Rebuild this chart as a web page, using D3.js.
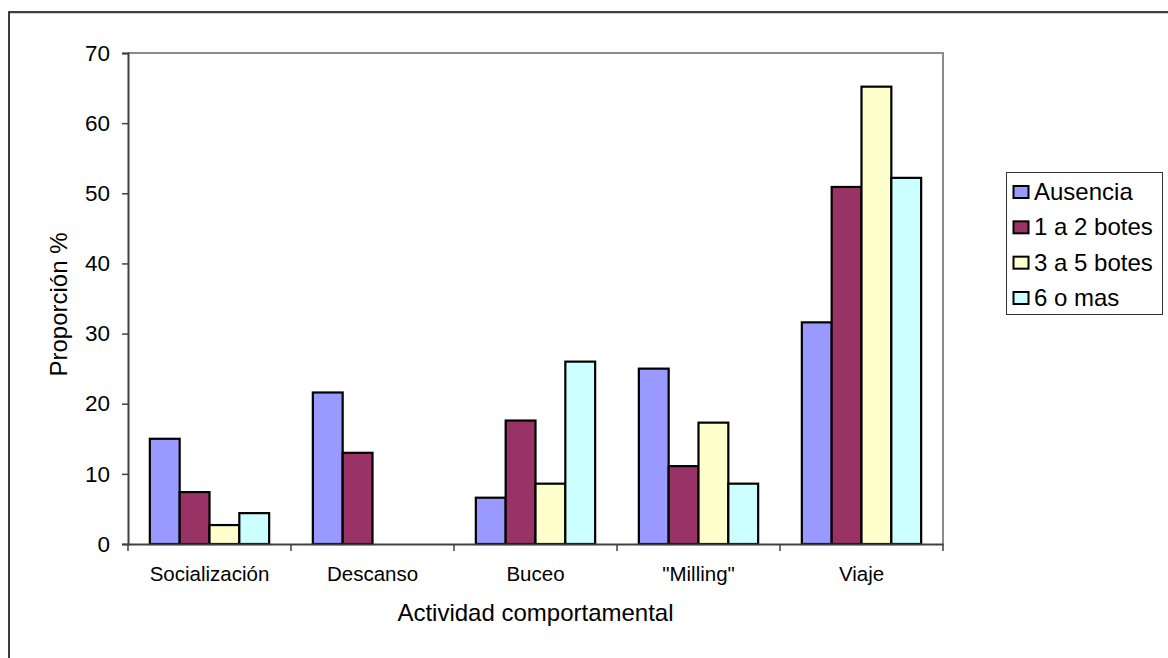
<!DOCTYPE html>
<html>
<head>
<meta charset="utf-8">
<script src="https://cdn.jsdelivr.net/npm/d3@7"></script>
<style>
  html, body { margin: 0; padding: 0; background: #fff; }
  svg { display: block; font-family: "Liberation Sans", Arial, sans-serif; }
</style>
</head>
<body>
<svg id="chart" width="1168" height="658"></svg>
<script>
const categories = ["Socialización", "Descanso", "Buceo", "\"Milling\"", "Viaje"];
const seriesNames = ["Ausencia", "1 a 2 botes", "3 a 5 botes", "6 o mas"];
const ausencia = [15.0, 21.6, 6.6, 25.0, 31.6];
const botes1a2 = [7.4, 13.0, 17.6, 11.1, 50.9];
const botes3a5 = [2.7, 0, 8.6, 17.3, 65.2];
const botes6mas = [4.4, 0, 26.0, 8.6, 52.2];
const yTicks = [0, 10, 20, 30, 40, 50, 60, 70];
const colors = ["#9999FF", "#993366", "#FFFFCC", "#CCFFFF"];
const xTitle = "Actividad comportamental";
const yTitle = "Proporción %";

const seriesValues = [ausencia, botes1a2, botes3a5, botes6mas];

const svg = d3.select("#chart");
const plot = { left: 128, right: 943, top: 53, bottom: 544 };

// outer frame (extends past right/bottom edges)
svg.append("rect").attr("x", 9.5).attr("y", 13.5).attr("width", 1200).attr("height", 700)
  .attr("fill", "none").attr("stroke", "#d0d0d0").attr("stroke-width", 1);
svg.append("rect").attr("x", 9).attr("y", 12).attr("width", 1200).attr("height", 700)
  .attr("fill", "none").attr("stroke", "#000").attr("stroke-width", 1.5);

const x0 = d3.scaleBand().domain(categories).range([plot.left, plot.right]).padding(0);
const bw = x0.bandwidth();
const inset = bw * 0.134;
const x1 = d3.scaleBand().domain(seriesNames).range([inset, bw - inset]).padding(0);
const y = d3.scaleLinear().domain([0, 70]).range([plot.bottom, plot.top]);

// plot area border (top + right)
svg.append("path")
  .attr("d", `M${plot.left},${plot.top}H${plot.right}V${plot.bottom}`)
  .attr("fill", "none").attr("stroke", "#8c8c8c").attr("stroke-width", 2);

// bars
const groups = svg.append("g").selectAll("g").data(categories).join("g")
  .attr("transform", d => `translate(${x0(d)},0)`);
groups.selectAll("rect")
  .data((c, ci) => seriesNames.map((s, si) => ({ s, si, v: seriesValues[si][ci] })).filter(d => d.v > 0))
  .join("rect")
  .attr("x", d => x1(d.s))
  .attr("width", x1.bandwidth())
  .attr("y", d => y(d.v))
  .attr("height", d => y(0) - y(d.v))
  .attr("fill", d => colors[d.si])
  .attr("stroke", "#000").attr("stroke-width", 2.2);

// y axis
const yAxis = svg.append("g").attr("transform", `translate(${plot.left},0)`)
  .call(d3.axisLeft(y).tickValues(yTicks).tickSize(6).tickPadding(12).tickFormat(d3.format("d")));
yAxis.select(".domain").attr("stroke", "#404040").attr("stroke-width", 2);
yAxis.selectAll(".tick line").attr("stroke", "#404040").attr("stroke-width", 1.5);
yAxis.selectAll("text").attr("font-size", 22.5).attr("fill", "#000")
  .attr("font-family", "Liberation Sans, Arial, sans-serif");

// x axis
const xAxis = svg.append("g").attr("transform", `translate(0,${plot.bottom})`)
  .call(d3.axisBottom(x0).tickSize(0).tickPadding(22));
xAxis.select(".domain").attr("stroke", "#404040").attr("stroke-width", 2);
xAxis.selectAll("text").attr("font-size", 20.5).attr("fill", "#000")
  .attr("font-family", "Liberation Sans, Arial, sans-serif");
// category boundary ticks
const bounds = categories.map(c => x0(c)).concat([plot.right]);
svg.append("g").selectAll("line").data(bounds).join("line")
  .attr("x1", d => d).attr("x2", d => d)
  .attr("y1", plot.bottom).attr("y2", plot.bottom + 7)
  .attr("stroke", "#404040").attr("stroke-width", 1.5);

// axis titles
svg.append("text").attr("x", (plot.left + plot.right) / 2).attr("y", 621)
  .attr("text-anchor", "middle").attr("font-size", 24).text(xTitle);
svg.append("text").attr("transform", `translate(67,${(plot.top + plot.bottom) / 2 + 6}) rotate(-90)`)
  .attr("text-anchor", "middle").attr("font-size", 24).text(yTitle);

// legend
const lg = svg.append("g");
lg.append("rect").attr("x", 1006.5).attr("y", 172.5).attr("width", 156).attr("height", 142)
  .attr("fill", "#fff").attr("stroke", "#333").attr("stroke-width", 1);
const rowY = d3.scalePoint().domain(seriesNames).range([191.5, 297.5]);
const items = lg.selectAll("g").data(seriesNames).join("g")
  .attr("transform", d => `translate(0,${rowY(d)})`);
items.append("rect").attr("x", 1013.5).attr("y", -5.5).attr("width", 15).attr("height", 12)
  .attr("fill", (d, i) => colors[i]).attr("stroke", "#000").attr("stroke-width", 2);
items.append("text").attr("x", 1034).attr("y", 8.5).attr("font-size", 24).text(d => d);
</script>
</body>
</html>
